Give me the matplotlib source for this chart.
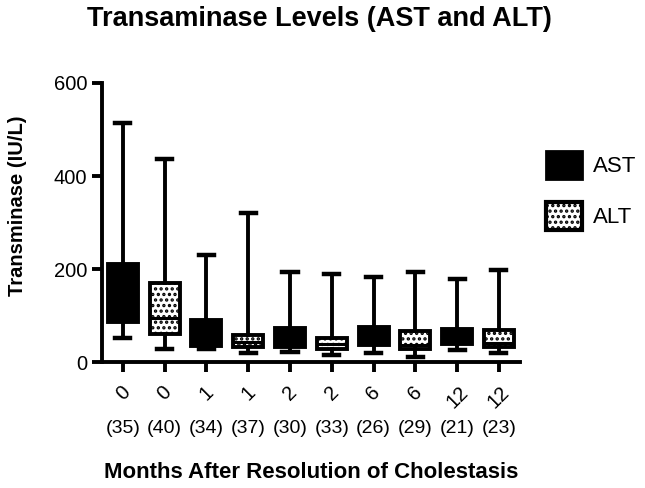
import numpy as np
import matplotlib
matplotlib.use("Agg")
import matplotlib.pyplot as plt
from matplotlib.patches import Patch

plt.rcParams['font.family'] = ['Liberation Sans', 'DejaVu Sans']
plt.rcParams['hatch.linewidth'] = 1.6

# groups in plotting order (AST, ALT alternating)
months = ['0', '0', '1', '1', '2', '2', '6', '6', '12', '12']
counts = ['(35)', '(40)', '(34)', '(37)', '(30)', '(33)', '(26)', '(29)', '(21)', '(23)']
enzyme = ['AST', 'ALT'] * 5

# box-and-whisker values (IU/L)
whisk_lo = [51, 29, 29, 19, 22, 15, 19, 11, 27, 19]
q1 = [86, 60, 35, 33, 33, 29, 36, 29, 38, 32]
median = [140, 94, 55, 44, 45, 38, 52, 37, 50, 40]
q3 = [210, 171, 90, 58, 73, 52, 76, 67, 72, 69]
whisk_hi = [515, 436, 230, 321, 194, 189, 182, 194, 178, 199]

stats = []
for i in range(len(months)):
    stats.append({'whislo': whisk_lo[i], 'q1': q1[i], 'med': median[i],
                  'q3': q3[i], 'whishi': whisk_hi[i], 'fliers': []})

fig = plt.figure(figsize=(6.45, 4.88), dpi=100)
ax = fig.add_axes([0.158, 0.258, 0.648, 0.572])

pos = np.arange(1, len(months) + 1)
bp = ax.bxp(stats, positions=pos, widths=0.72, patch_artist=True,
            showfliers=False,
            boxprops=dict(linewidth=2.8, edgecolor='black'),
            whiskerprops=dict(linewidth=2.8, color='black'),
            capprops=dict(linewidth=3.2, color='black'),
            medianprops=dict(linewidth=2.2, color='black'),
            capwidths=0.36)

for patch, enz in zip(bp['boxes'], enzyme):
    if enz == 'AST':
        patch.set_facecolor('black')
    else:
        patch.set_facecolor('white')
        patch.set_hatch('...')

ax.set_xlim(0.5, 10.5)
ax.set_ylim(0, 600)
ax.set_yticks([0, 200, 400, 600])
ax.set_xticks(pos)
ax.set_xticklabels(months, rotation=45, ha='center', va='top')

for s in ['top', 'right']:
    ax.spines[s].set_visible(False)
for s in ['left', 'bottom']:
    ax.spines[s].set_linewidth(2.8)
ax.tick_params(axis='both', width=2.8, length=7, labelsize=14.5, direction='out')
ax.tick_params(axis='x', pad=8)

for x, c in zip(pos, counts):
    ax.text(x, -142, c, ha='center', va='center', fontsize=14,
            transform=ax.transData, clip_on=False)

fig.text(0.027, 0.578, 'Transminase (IU/L)', rotation=90,
         ha='center', va='center', fontsize=14.5, fontweight='bold')
fig.text(0.482, 0.031, 'Months After Resolution of Cholestasis',
         ha='center', va='center', fontsize=16, fontweight='bold')
fig.text(0.495, 0.962, 'Transaminase Levels (AST and ALT)',
         ha='center', va='center', fontsize=19.5, fontweight='bold')

handles = [Patch(facecolor='black', edgecolor='black', linewidth=2, label='AST'),
           Patch(facecolor='white', edgecolor='black', linewidth=3, hatch='...', label='ALT')]
fig.legend(handles=handles, loc='upper left', bbox_to_anchor=(0.815, 0.732),
           frameon=False, fontsize=16, handlelength=1.65, handleheight=1.6,
           labelspacing=1.0, handletextpad=0.5)

fig.savefig('out.png', dpi=100)
